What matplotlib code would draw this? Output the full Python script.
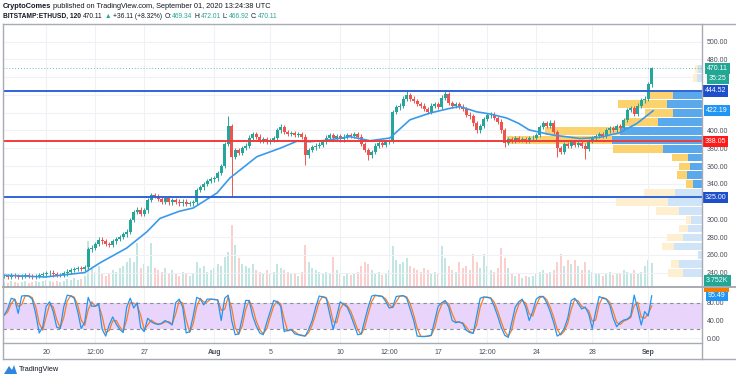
import numpy as np
import pandas as pd
import matplotlib
matplotlib.use("Agg")
import matplotlib.pyplot as plt
import matplotlib.dates as mdates
from matplotlib.lines import Line2D
from matplotlib.patches import Rectangle, Polygon

plt.rcParams['font.family'] = ['Liberation Sans', 'DejaVu Sans']

W, H = 736, 380

# ETHUSD closes, 6h steps from 2020-07-17 00:00
closes = [236, 235, 237, 236, 235, 236, 237, 236, 235, 236, 237, 238,
          239, 240, 238, 237, 237, 239, 241, 243, 244, 245, 244, 246,
          266, 268, 272, 277, 275, 272, 271, 275, 278, 280, 283, 286,
          299, 308, 311, 306, 310, 322, 327, 326, 323,
          320, 324, 319, 322, 320, 318, 320, 317, 318, 319,
          333, 336, 340, 343, 345, 346, 352, 360, 385, 405, 370,
          378, 375, 380, 383, 392, 396, 393, 388, 390, 387, 389, 391,
          400, 404, 398, 396, 397, 395, 396, 393, 372,
          378, 381, 383, 384, 387, 392, 395, 391, 394, 390, 393, 395, 394, 396, 393,
          385, 378, 372, 376, 383, 386, 384, 387, 388,
          421, 426, 428, 436, 440, 436, 433, 430, 428, 424, 421,
          428, 430, 427, 437, 441, 431, 428, 430, 427, 424, 418, 416,
          408, 400, 405, 413, 417, 418, 414, 410, 400, 386,
          390, 388, 391, 389, 390, 388, 391, 392, 395,
          404, 408, 405, 409, 398, 380, 376,
          385, 383, 387, 384, 386, 383, 379,
          388, 391, 394, 396, 394, 400, 403, 401, 405, 403,
          412, 423, 425, 419, 428, 434, 436, 452, 470.11]
wick_highs = {64: 416, 79: 407, 115: 444, 126: 446, 185: 472.01}
wick_lows = {65: 325, 86: 361, 104: 367, 143: 381, 158: 370, 166: 368}

volumes = [5, 4, 6, 5, 4, 5, 6, 4, 5, 6, 5, 6,
           8, 6, 5, 6, 5, 7, 9, 8, 10, 8, 9, 12,
           48, 20, 16, 22, 14, 12, 15, 18, 16, 20, 22, 26,
           30, 26, 46, 20, 24, 22, 46, 20, 18,
           16, 20, 14, 18, 15, 12, 16, 14, 12, 15,
           26, 20, 22, 16, 18, 20, 24, 22, 31, 36,
           64, 44, 30, 24, 22,
           20, 24, 18, 16, 14, 18, 15, 16, 24, 20,
           18, 16, 14, 15, 12, 16,
           44, 26, 20, 18, 16, 14,
           16, 14, 31, 18, 14, 12, 15, 13, 14, 16,
           22, 26, 24, 18, 14, 16, 13, 15, 18,
           43, 28, 24, 26, 30,
           22, 20, 18, 16, 20, 18, 15, 16, 14,
           43, 30, 22, 18, 16, 26,
           20, 22, 18, 34, 26, 20, 34, 22, 18, 16, 20,
           41, 30, 20, 14, 12, 14, 10, 12, 11,
           12, 14, 16, 18, 14, 16, 18,
           26, 34, 22, 28, 24, 28, 22, 18, 26,
           18, 16, 14, 15, 12, 14, 16, 13, 15, 14,
           18, 16, 14, 18, 15, 16, 22, 28, 25]

stoch_k = [52, 66, 90, 87, 56, 95, 96, 95, 88, 55,
           12, 25, 72, 82, 60, 25, 22, 70, 97, 95,
           90, 60, 22, 36, 92, 72, 72, 78, 20, 5,
           30, 48, 32, 20, 13, 70, 90, 68, 80, 24,
           15, 45, 37, 33, 31, 34, 40, 35, 30, 80,
           88, 70, 12, 15, 50, 92, 88, 75, 88, 88,
           87, 86, 40, 90, 97, 40, 8, 10, 45, 85,
           85, 50, 28, 12, 8, 35, 60, 85, 82, 72,
           15, 18, 20, 10, 8, 6, 5, 20, 40, 70,
           95, 93, 90, 55, 20, 50, 82, 76, 70, 52,
           30, 8, 10, 40, 70, 95, 97, 95, 94, 83,
           68, 70, 94, 95, 96, 90, 65, 40, 5, 4,
           4, 5, 7, 40, 72, 80, 85, 70, 40, 35,
           37, 33, 18, 13, 11, 50, 90, 93, 92, 90,
           72, 50, 25, 7, 2, 35, 70, 82, 88, 70,
           40, 60, 88, 94, 94, 80, 60, 35, 5, 10,
           22, 45, 85, 90, 78, 66, 70, 55, 22, 60,
           94, 90, 88, 75, 45, 26, 36, 41, 43, 50,
           97, 65, 30, 60, 50, 95.49]

# moving average, sampled at candle index positions
ma_idx = [0, 11.7, 23, 27.4, 35, 40.8, 44.5, 50, 54, 60.8, 64.5, 72.2, 78.8,
          83.7, 87.4, 92.2, 98.8, 104.5, 110.2, 115.9, 121.7, 127.4, 130.2,
          135, 138.8, 143.6, 147, 150, 156.5, 164.5, 170.2, 175.9, 180.8, 185.4]
ma_vals = [237, 235, 240, 251, 267.6, 286, 301, 309, 312.7, 329.6, 346.5, 370.5,
           380, 388, 387.4, 389, 393, 388.5, 391.5, 412, 419.7, 425, 427, 421,
           418.6, 414, 408, 400.6, 395, 391, 392.3, 397.6, 408, 422.2]

# volume profile (10$ rows)
vp_price = [239.5, 249.5, 259.5, 269.5, 279.5, 289.5, 299.5, 309.5, 319.5, 329.5,
            339.5, 349.5, 359.5, 369.5, 379.5, 389.5, 399.5, 409.5, 419.5, 429.5,
            439.5, 449.5, 459.5, 469.5]
vp_up = [19, 23, 4, 28, 19, 14, 11, 23, 34, 27, 9, 15, 12, 14, 39, 90, 82, 44,
         29, 35, 29, 0, 5, 4]
vp_down = [15, 8, 0, 12, 16, 9, 5, 23, 52, 31, 7, 10, 11, 16, 50, 105, 75, 33,
           28, 49, 25, 0, 4, 3]

levels = [(444.52, '#2F63D6'), (388.05, '#F23A3A'), (325.00, '#2F63D6')]
# axis labels that sit under a badge in the reference
hidden_ticks = [320, 420, 440, 460]

date_ticks = ['2020-07-20 00:00', '2020-07-23 12:00', '2020-07-27 00:00', '2020-08-01 00:00',
              '2020-08-05 00:00', '2020-08-10 00:00', '2020-08-13 12:00', '2020-08-17 00:00',
              '2020-08-20 12:00', '2020-08-24 00:00', '2020-08-28 00:00', '2020-09-01 00:00']
date_labels = ['20', '12:00', '27', 'Aug', '5', '10', '12:00', '17', '12:00',
               '24', '28', 'Sep']

assert len(closes) == len(volumes) == len(stoch_k)

UP, DOWN = '#26A69A', '#EF5350'
TXT = '#131722'
GRID = '#EFF1F6'
BORDER = '#A8ABB4'

fig = plt.figure(figsize=(W / 100, H / 100), dpi=100)


def fx(px):
    return px / W


def fy(py):
    return 1 - py / H


L, R = 3, 702
P_TOP, P_BOT = 23.5, 287.3
S_TOP, S_BOT = 287.3, 342.7
ax = fig.add_axes([fx(L), fy(P_BOT), (R - L) / W, (P_BOT - P_TOP) / H])
ax_v = ax.twinx()
ax.set_zorder(ax_v.get_zorder() + 1)
ax.patch.set_visible(False)
ax_s = fig.add_axes([fx(L), fy(S_BOT), (R - L) / W, (S_BOT - S_TOP) / H], sharex=ax)

dates = pd.date_range('2020-07-17', periods=len(closes), freq='6h')
xs = mdates.date2num(dates)
day0 = mdates.date2num(pd.Timestamp('2020-07-20'))
PX_DAY = 14.0
x_lo = day0 - (46.2 - L) / PX_DAY
x_hi = day0 + (R - 46.2) / PX_DAY

c = np.array(closes, dtype=float)
o = np.concatenate([[c[0]], c[:-1]])
hi = np.maximum(o, c) + 2.5
lo = np.minimum(o, c) - 2.5
for k, v in wick_highs.items():
    hi[k] = v
for k, v in wick_lows.items():
    lo[k] = v
is_up = c >= o
cols = np.where(is_up, UP, DOWN)

# volume in the background
vcols = [(38/255, 166/255, 154/255, 0.28) if u else (239/255, 83/255, 80/255, 0.28) for u in is_up]
ax_v.bar(xs, volumes, width=0.13, color=vcols, linewidth=0)
ax_v.set_ylim(0, max(volumes) * (P_BOT - P_TOP) / 62)
ax_v.set_yticks([])
for s in ax_v.spines.values():
    s.set_visible(False)

# volume profile on the right edge
for p, u, d in zip(vp_price, vp_up, vp_down):
    strong = 335 <= p <= 440
    cu = '#5AA9EC' if strong else '#CFE4F7'
    cd = '#FBD26E' if strong else '#FDEFD0'
    ax.barh(p, u / PX_DAY, left=x_hi - u / PX_DAY, height=8.7, color=cu, zorder=1, linewidth=0)
    ax.barh(p, d / PX_DAY, left=x_hi - (u + d) / PX_DAY, height=8.7, color=cd, zorder=1, linewidth=0)

# candles
ax.vlines(xs, lo, hi, colors=cols, linewidth=0.7, zorder=3)
ax.bar(xs, np.maximum(np.abs(c - o), 0.8), bottom=np.minimum(o, c), width=0.19,
       color=cols, linewidth=0, zorder=3.1)

ma_x = mdates.date2num(pd.Timestamp('2020-07-17')) + np.array(ma_idx) * 0.25
ax.plot(ma_x, ma_vals, color='#3A9AEA', lw=1.2, zorder=3.5)

for lv, col in levels:
    ax.axhline(lv, color=col, lw=1.4, zorder=4)
ax.axhline(470.11, color=UP, lw=0.7, ls=(0, (1, 2)), alpha=0.7, zorder=2)

ax.set_xlim(x_lo, x_hi)
ax.set_ylim(223.4, 520.5)
ax.set_yticks(np.arange(240, 501, 20))
ax.yaxis.set_major_formatter(matplotlib.ticker.FuncFormatter(
    lambda v, _: '' if round(v) in hidden_ticks else f'{v:.2f}'))
ax.yaxis.tick_right()
ax.tick_params(axis='y', length=0, pad=3.5, labelsize=5, labelcolor='#4A4E59')
ax.tick_params(axis='x', length=0, labelbottom=False)
tick_x = mdates.date2num(pd.to_datetime(date_ticks, format='%Y-%m-%d %H:%M'))
ax.set_xticks(tick_x)
ax.set_axisbelow(True)
ax.grid(True, color=GRID, lw=0.8)
for s in ax.spines.values():
    s.set_visible(False)

# stochastic RSI pane
k = pd.Series(stoch_k, dtype=float)
d = k.rolling(2, min_periods=1).mean()
ax_s.axhspan(20, 80, color='#E9D5FB', zorder=0.6, lw=0)
ax_s.axhline(80, color='#8A8D97', lw=0.8, ls=(0, (3, 3)), zorder=1)
ax_s.axhline(20, color='#8A8D97', lw=0.8, ls=(0, (3, 3)), zorder=1)
ax_s.plot(xs, d, color='#FF7A1F', lw=0.9, zorder=2)
ax_s.plot(xs, k, color='#2196F3', lw=0.9, zorder=2.1)
ax_s.set_ylim(-9.9, 114.6)
ax_s.set_yticks([0, 40, 80])
ax_s.yaxis.set_major_formatter(matplotlib.ticker.FuncFormatter(lambda v, _: f'{v:.2f}'))
ax_s.yaxis.tick_right()
ax_s.tick_params(axis='y', length=0, pad=3.5, labelsize=5, labelcolor='#4A4E59')
ax_s.tick_params(axis='x', length=0, labelbottom=False)
ax_s.set_xticks(tick_x)
ax_s.set_axisbelow(True)
ax_s.grid(True, color=GRID, lw=0.8)
for s in ax_s.spines.values():
    s.set_visible(False)

for tx, lab in zip(tick_x, date_labels):
    ax_s.text(tx, -0.18, lab, transform=ax_s.get_xaxis_transform(), ha='center', va='center',
              fontsize=5, color='#4A4E59', fontweight='bold' if lab in ('Aug', 'Sep') else 'normal')


def badge(a, y, s, color, off=2.4):
    a.text(1 + off / (R - L), y, s, transform=a.get_yaxis_transform(), ha='left', va='center',
           fontsize=5, color='white', zorder=20, clip_on=False,
           bbox=dict(boxstyle='square,pad=0.3', fc=color, ec='none'))


badge(ax, 470.11, '470.11', '#22A795', off=5)
badge(ax, 459.0, '35:25', '#22A795', off=7)
badge(ax, 444.52, '444.52', '#1D4FCC')
badge(ax, 422.19, '422.19', '#2196F3', off=4)
badge(ax, 388.05, '388.05', '#FF1A1A')
badge(ax, 325.00, '325.00', '#1D4FCC')
badge(ax, 230.5, '3.752K', '#22A795', off=4)
badge(ax_s, 97, '95.49', '#2196F3', off=6)
fig.add_artist(Rectangle((fx(704), fy(292)), 25 / W, 4 / H, transform=fig.transFigure,
                         color='#F57C00', lw=0))


# borders
def hline(y, x0, x1, lw=1.0):
    fig.add_artist(Line2D([fx(x0), fx(x1)], [fy(y), fy(y)], color=BORDER, lw=lw))


def vline(x, y0, y1, lw=1.0):
    fig.add_artist(Line2D([fx(x), fx(x)], [fy(y0), fy(y1)], color=BORDER, lw=lw))


hline(P_TOP, L, W)
hline(P_BOT, L, W, lw=1.4)
hline(S_BOT, L, R)
hline(359.3, L, W)
vline(L, P_TOP, 359.3)
vline(R, P_TOP, 359.3)

# header
renderer = fig.canvas.get_renderer()


def text_run(x, y, pieces, size=5.3):
    for s, color, weight, gap in pieces:
        x += gap
        t = fig.text(fx(x), fy(y), s, color=color, fontweight=weight, fontsize=size,
                     ha='left', va='center')
        x += t.get_window_extent(renderer).width


text_run(3, 6, [('CryptoComes', TXT, 'bold', 0),
                ('published on TradingView.com, September 01, 2020 13:24:38 UTC', TXT, 'normal', 2)])
text_run(3, 16, [('BITSTAMP:ETHUSD, 120', TXT, 'bold', 0),
                 ('470.11', TXT, 'normal', 2.2),
                 ('▲', UP, 'normal', 2),
                 ('+36.11 (+8.32%)', TXT, 'normal', 2),
                 ('O:', TXT, 'normal', 2), ('469.34', UP, 'normal', 0.2),
                 ('H:', TXT, 'normal', 2), ('472.01', UP, 'normal', 0.2),
                 ('L:', TXT, 'normal', 2), ('466.92', UP, 'normal', 0.2),
                 ('C:', TXT, 'normal', 2), ('470.11', UP, 'normal', 0.2)], size=4.8)

# footer logo
fig.add_artist(Polygon([(fx(4), fy(374)), (fx(9), fy(366)), (fx(12), fy(370)),
                        (fx(14), fy(365)), (fx(17), fy(374))],
                       closed=True, transform=fig.transFigure, color='#2E86DE', lw=0))
fig.text(fx(19), fy(369.5), 'TradingView', fontsize=5.3, color=TXT, ha='left', va='center')

fig.savefig('out.png', dpi=100, facecolor='white')
